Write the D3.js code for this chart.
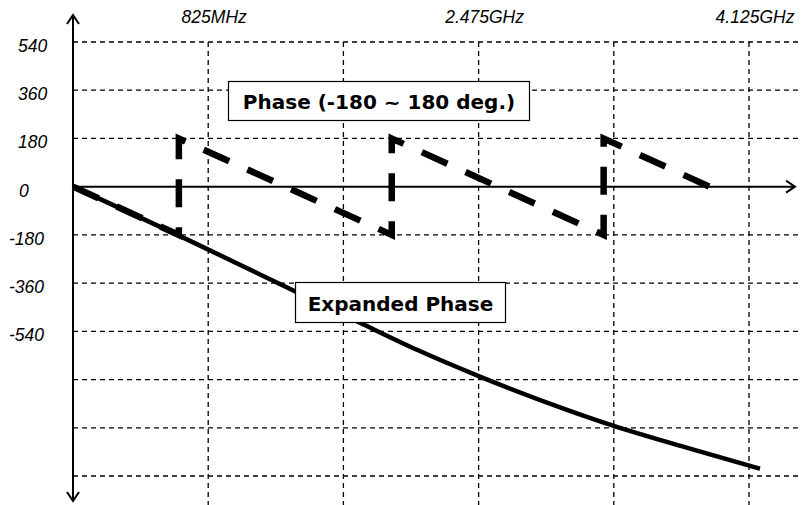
<!DOCTYPE html>
<html>
<head>
<meta charset="utf-8">
<script src="https://cdn.jsdelivr.net/npm/d3@7"></script>
<style>
  body { margin: 0; background: #fff; }
  svg { display: block; }
</style>
</head>
<body>
<div id="chart"></div>
<script>
// frequency ticks (MHz) and their labels
const freqTicks = [825, 1650, 2475, 3300, 4125];
const freqLabels = ["825MHz", "", "2.475GHz", "", "4.125GHz"];

// degree grid lines and labels
const degTicks = [540, 360, 180, -180, -360, -540, -720, -900, -1080];
const degLabels = ["540", "360", "180", "-180", "-360", "-540", "", "", ""];

// wrapped phase (-180 ~ 180)
const phaseFreq = [0, 646, 646, 1945, 1945, 3238, 3238, 3884];
const phaseDeg = [0, -180, 180, -180, 180, -180, 180, 0];

// expanded (unwrapped) phase
const expFreq = [0, 775, 1294, 1751, 2099, 2483, 3014, 3295, 3765, 4192];
const expDeg = [0, -220, -373, -508, -609, -709, -833, -892, -978, -1053];

const width = 802, height = 505;

const svg = d3.select("#chart").append("svg")
    .attr("width", width)
    .attr("height", height);

const x = d3.scaleLinear().domain([0, 4125]).range([73, 749]);
const y = d3.scaleLinear().domain([-1080, 540]).range([476, 42]);

// grid
const grid = svg.append("g")
    .attr("stroke", "#000")
    .attr("stroke-width", 1.3)
    .attr("stroke-dasharray", "5,4");

grid.selectAll(".hgrid")
    .data(degTicks)
    .enter().append("line")
    .attr("x1", x(0)).attr("x2", width)
    .attr("y1", d => y(d)).attr("y2", d => y(d));

grid.selectAll(".vgrid")
    .data(freqTicks)
    .enter().append("line")
    .attr("x1", d => x(d)).attr("x2", d => x(d))
    .attr("y1", y(540)).attr("y2", height);

const tickFont = "Liberation Sans, Arial, sans-serif";

// y labels
svg.append("g").selectAll("text")
    .data(degTicks.map((d, i) => ({ v: d, t: degLabels[i] })).filter(d => d.t))
    .enter().append("text")
    .attr("x", d => d.v < 0 ? 9 : 18)
    .attr("y", d => y(d.v) + 10)
    .attr("font-family", tickFont)
    .attr("font-style", "italic")
    .attr("font-size", 17.5)
    .text(d => d.t);

svg.append("text")
    .attr("x", 19).attr("y", y(0) + 10)
    .attr("font-family", tickFont)
    .attr("font-style", "italic")
    .attr("font-size", 17.5)
    .text("0");

// x labels
svg.append("g").selectAll("text")
    .data(freqTicks.map((d, i) => ({ v: d, t: freqLabels[i] })).filter(d => d.t))
    .enter().append("text")
    .attr("x", d => x(d.v) + 6)
    .attr("y", 23)
    .attr("text-anchor", "middle")
    .attr("font-family", tickFont)
    .attr("font-style", "italic")
    .attr("font-size", 17.5)
    .text(d => d.t);

// axes with open arrows
const axes = svg.append("g")
    .attr("stroke", "#000")
    .attr("stroke-width", 2)
    .attr("fill", "none");

axes.append("line")
    .attr("x1", x(0)).attr("x2", 795)
    .attr("y1", y(0)).attr("y2", y(0));
axes.append("polyline")
    .attr("points", [[786, y(0) - 6], [795, y(0)], [786, y(0) + 6]].join(" "));

axes.append("line")
    .attr("x1", x(0)).attr("x2", x(0))
    .attr("y1", 15).attr("y2", 501);
axes.append("polyline")
    .attr("points", [[x(0) - 6, 24], [x(0), 15], [x(0) + 6, 24]].join(" "));
axes.append("polyline")
    .attr("points", [[x(0) - 6, 492], [x(0), 501], [x(0) + 6, 492]].join(" "));

// expanded phase (solid)
const expLine = d3.line()
    .x(d => x(d[0]))
    .y(d => y(d[1]))
    .curve(d3.curveMonotoneX);

svg.append("path")
    .datum(expFreq.map((f, i) => [f, expDeg[i]]))
    .attr("d", expLine)
    .attr("fill", "none")
    .attr("stroke", "#000")
    .attr("stroke-width", 4.5);

// wrapped phase (thick dashes)
const phaseLine = d3.line()
    .x(d => x(d[0]))
    .y(d => y(d[1]));

svg.append("path")
    .datum(phaseFreq.map((f, i) => [f, phaseDeg[i]]))
    .attr("d", phaseLine)
    .attr("fill", "none")
    .attr("stroke", "#000")
    .attr("stroke-width", 6.5)
    .attr("stroke-dasharray", "28,20");

// annotation boxes
function labelBox(bx, by, bw, bh, txt) {
    const g = svg.append("g");
    g.append("rect")
        .attr("x", bx).attr("y", by)
        .attr("width", bw).attr("height", bh)
        .attr("fill", "#fff")
        .attr("stroke", "#000")
        .attr("stroke-width", 1.2);
    g.append("text")
        .attr("x", bx + bw / 2)
        .attr("y", by + bh / 2 + 8)
        .attr("text-anchor", "middle")
        .attr("font-family", "DejaVu Sans, Verdana, sans-serif")
        .attr("font-weight", "bold")
        .attr("font-size", 20)
        .text(txt);
}

labelBox(228.5, 81.5, 301, 39, "Phase (-180 ~ 180 deg.)");
labelBox(295.5, 282.5, 210, 40, "Expanded Phase");
</script>
</body>
</html>
